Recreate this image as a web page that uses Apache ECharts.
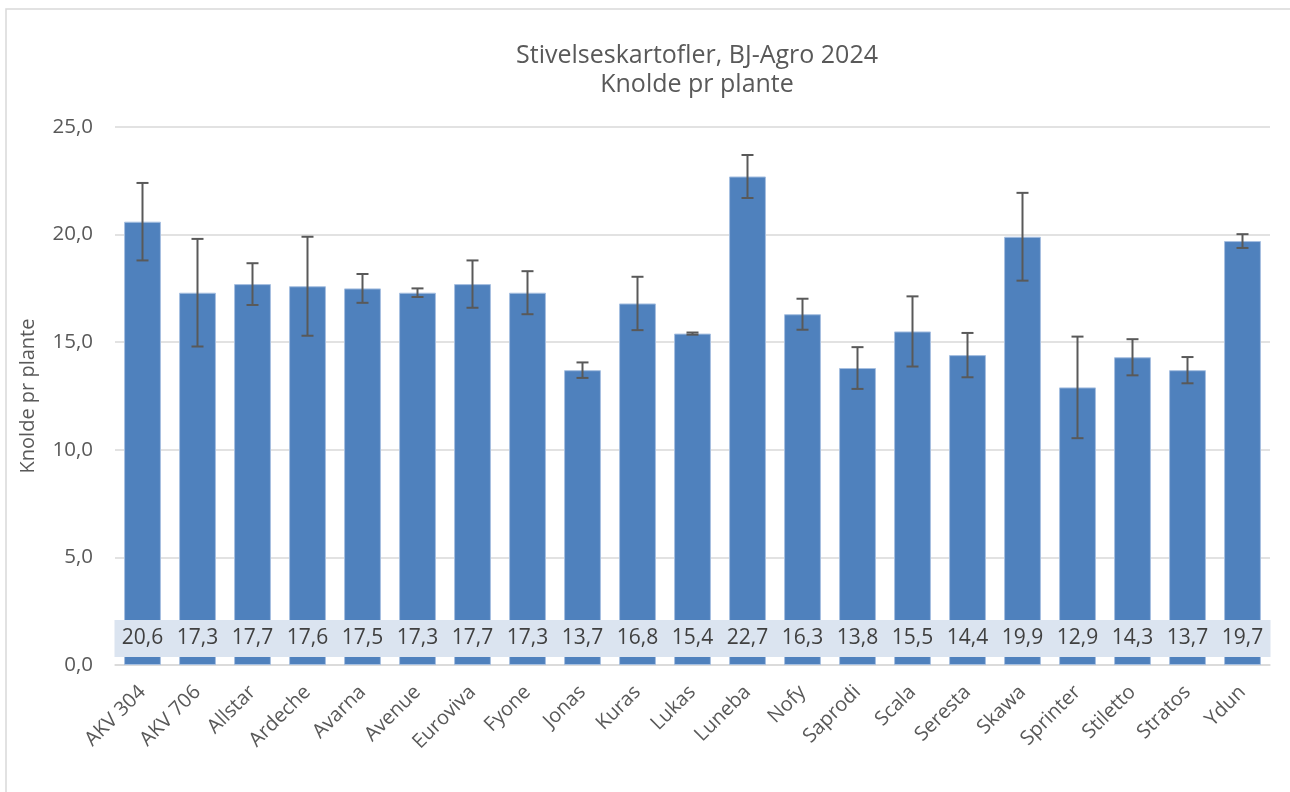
<!DOCTYPE html>
<html><head><meta charset="utf-8">
<script src="https://cdn.jsdelivr.net/npm/echarts@6/dist/echarts.min.js"></script>
<style>html,body{margin:0;padding:0;background:#fff}#c{width:1290px;height:792px}</style>
</head><body><div id="c"></div>
<script>
const categories = ['AKV 304','AKV 706','Allstar','Ardeche','Avarna','Avenue','Euroviva','Fyone','Jonas','Kuras','Lukas','Luneba','Nofy','Saprodi','Scala','Seresta','Skawa','Sprinter','Stiletto','Stratos','Ydun'];
const values = [20.6,17.3,17.7,17.6,17.5,17.3,17.7,17.3,13.7,16.8,15.4,22.7,16.3,13.8,15.5,14.4,19.9,12.9,14.3,13.7,19.7];
const errors = [1.8,2.5,0.97,2.3,0.67,0.2,1.1,1.0,0.36,1.24,0.05,1.0,0.72,0.97,1.63,1.03,2.04,2.36,0.84,0.61,0.32];
const yTicks = {min:0, max:25, interval:5};
const titleLines = ['Stivelseskartofler, BJ-Agro 2024','Knolde pr plante'];
const yAxisName = 'Knolde pr plante';

const FONT = 'Open Sans';
const fmt = v => v.toFixed(1).replace('.', ',');
const chart = echarts.init(document.getElementById('c'));
chart.setOption({
  animation:false,
  backgroundColor:'#fff',
  graphic:[{type:'rect',shape:{x:6,y:9,width:1400,height:900},style:{fill:'none',stroke:'#d9d9d9',lineWidth:1.5},silent:true}],
  title:{text:titleLines.join('\n'),left:692,textAlign:'center',top:36,
    textStyle:{fontFamily:FONT,fontSize:25,fontWeight:'normal',color:'#595959',lineHeight:29}},
  grid:{left:115,right:20,top:127,bottom:127},
  xAxis:{type:'category',data:categories,
    axisTick:{show:false},
    axisLine:{lineStyle:{color:'#d9d9d9',width:1.5}},
    axisLabel:{rotate:45,fontFamily:FONT,fontSize:20,color:'#595959',margin:24,interval:0}},
  yAxis:{type:'value',min:yTicks.min,max:yTicks.max,interval:yTicks.interval,
    name:yAxisName,nameLocation:'middle',nameGap:77,nameRotate:90,
    nameTextStyle:{fontFamily:FONT,fontSize:20,color:'#595959'},
    axisLabel:{formatter:fmt,fontFamily:FONT,fontSize:20.5,color:'#595959',margin:22},
    splitLine:{lineStyle:{color:'#d9d9d9',width:1.5}},
    axisLine:{show:false},axisTick:{show:false}},
  series:[{
    type:'bar',data:values,barWidth:'67%',
    itemStyle:{color:'#4f81bd',borderColor:'#a6bfe0',borderWidth:1},
    label:{show:true,position:'insideBottom',distance:8,formatter:p=>fmt(p.value),
      fontFamily:FONT,fontSize:21,color:'#404040',backgroundColor:'#dbe4f0',
      width:56,align:'center',padding:[6,0,6,0],lineHeight:25}
  },{
    type:'custom',z:5,
    data:values.map((v,i)=>[i,v-errors[i],v+errors[i]]),
    renderItem:function(params,api){
      const lo=api.coord([api.value(0),api.value(1)]);
      const hi=api.coord([api.value(0),api.value(2)]);
      const h=6;
      const st={stroke:'#595959',lineWidth:2};
      return {type:'group',children:[
        {type:'line',shape:{x1:hi[0],y1:hi[1],x2:lo[0],y2:lo[1]},style:st},
        {type:'line',shape:{x1:hi[0]-h,y1:hi[1],x2:hi[0]+h,y2:hi[1]},style:st},
        {type:'line',shape:{x1:lo[0]-h,y1:lo[1],x2:lo[0]+h,y2:lo[1]},style:st}
      ]};
    }
  }]
});
</script></body></html>
